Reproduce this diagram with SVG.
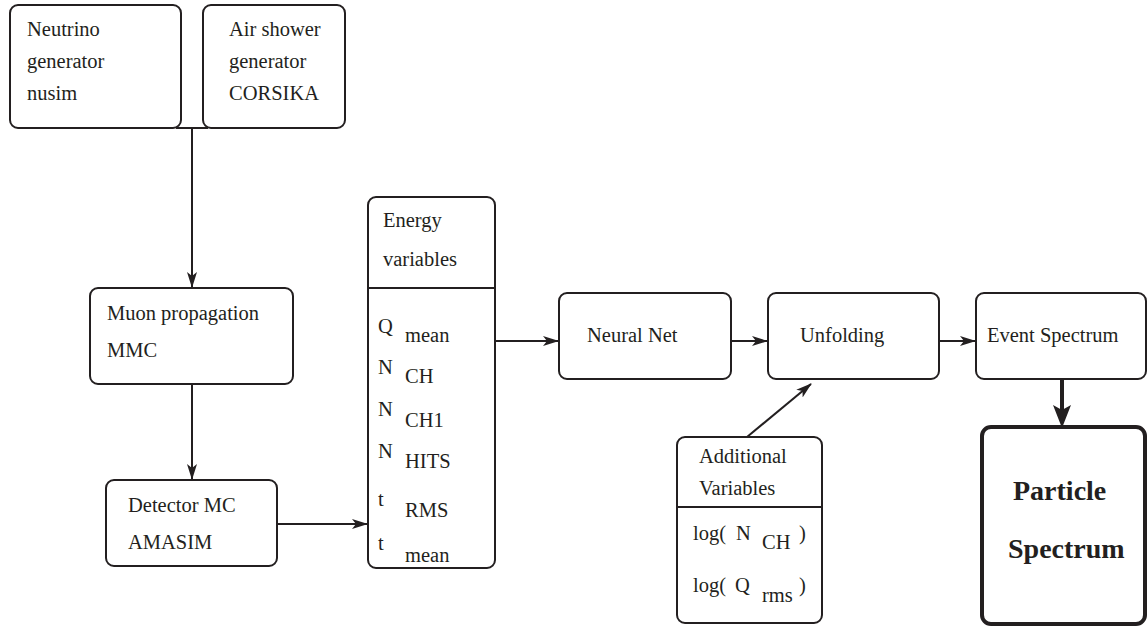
<svg xmlns="http://www.w3.org/2000/svg" width="1148" height="627" viewBox="0 0 1148 627" font-family="'Liberation Serif', Tinos, 'Times New Roman', Times, 'Noto Serif', 'DejaVu Serif', FreeSerif, serif">
<defs>
<marker id="ah" markerWidth="16" markerHeight="12" refX="15" refY="6" orient="auto" markerUnits="userSpaceOnUse">
<path d="M0,1 L16,6 L0,11 L4,6 z" fill="#231f20"/>
</marker>
</defs>
<style>
.box{fill:#fff;stroke:#231f20;stroke-width:2}
.thick{fill:#fff;stroke:#231f20;stroke-width:4}
.ln{fill:none;stroke:#231f20;stroke-width:2}
text{font-family:'Liberation Serif',Tinos,'Times New Roman',Times,'Noto Serif','DejaVu Serif',FreeSerif,serif;font-size:20.5px;fill:#231f20}
.b{font-weight:bold;font-size:28px}
</style>
<rect width="1148" height="627" fill="#fff"/>
<g id="connectors">
<line class="ln" x1="176" y1="128" x2="208" y2="128"/>
<line class="ln" x1="192" y1="128" x2="192" y2="287" marker-end="url(#ah)"/>
<line class="ln" x1="192" y1="384" x2="192" y2="479" marker-end="url(#ah)"/>
<line class="ln" x1="277" y1="524" x2="367" y2="524" marker-end="url(#ah)"/>
<line class="ln" x1="495" y1="341" x2="558" y2="341" marker-end="url(#ah)"/>
<line class="ln" x1="731" y1="341" x2="767" y2="341" marker-end="url(#ah)"/>
<line class="ln" x1="939" y1="341" x2="975" y2="341" marker-end="url(#ah)"/>
<line class="ln" x1="747" y1="437" x2="811" y2="384" marker-end="url(#ah)"/>
<line x1="1062" y1="379" x2="1062" y2="412" stroke="#231f20" stroke-width="4"/>
<path d="M1053,405 L1062,428 L1071,405 L1062,410 z" fill="#231f20"/>
</g>
<g id="neutrino">
<rect class="box" x="10" y="5" width="171" height="123" rx="8"/>
<text x="27" y="36">Neutrino</text>
<text x="27" y="68">generator</text>
<text x="27" y="100">nusim</text>
</g>
<g id="airshower">
<rect class="box" x="203" y="5" width="142" height="123" rx="8"/>
<text x="229" y="36">Air shower</text>
<text x="229" y="68">generator</text>
<text x="229" y="100">CORSIKA</text>
</g>
<g id="muon">
<rect class="box" x="90" y="288" width="203" height="96" rx="8"/>
<text x="107" y="320">Muon propagation</text>
<text x="107" y="357">MMC</text>
</g>
<g id="detector">
<rect class="box" x="106" y="480" width="171" height="86" rx="8"/>
<text x="128" y="512">Detector MC</text>
<text x="128" y="549">AMASIM</text>
</g>
<g id="energy">
<rect class="box" x="368" y="197" width="127" height="371" rx="8"/>
<line class="ln" x1="368" y1="288" x2="495" y2="288"/>
<text x="383" y="227">Energy</text>
<text x="383" y="266">variables</text>
<text x="378" y="333">Q</text><text x="405" y="342">mean</text>
<text x="378" y="374">N</text><text x="405" y="383">CH</text>
<text x="378" y="416">N</text><text x="405" y="427">CH1</text>
<text x="378" y="458">N</text><text x="405" y="468">HITS</text>
<text x="378" y="506">t</text><text x="405" y="517">RMS</text>
<text x="378" y="550">t</text><text x="405" y="562">mean</text>
</g>
<g id="neuralnet">
<rect class="box" x="559" y="293" width="172" height="86" rx="8"/>
<text x="587" y="342">Neural Net</text>
</g>
<g id="unfolding">
<rect class="box" x="768" y="293" width="171" height="86" rx="8"/>
<text x="800" y="342">Unfolding</text>
</g>
<g id="eventspectrum">
<rect class="box" x="976" y="293" width="170" height="86" rx="8"/>
<text x="987" y="342">Event Spectrum</text>
</g>
<g id="additional">
<rect class="box" x="677" y="437" width="145" height="186" rx="8"/>
<line class="ln" x1="677" y1="507" x2="822" y2="507"/>
<text x="699" y="463">Additional</text>
<text x="699" y="495">Variables</text>
<text x="693" y="540">log(</text><text x="736" y="540">N</text><text x="762" y="549">CH</text><text x="799" y="540">)</text>
<text x="693" y="592">log(</text><text x="735" y="592">Q</text><text x="762" y="602">rms</text><text x="799" y="592">)</text>
</g>
<g id="particlespectrum">
<rect class="thick" x="982" y="427" width="163" height="197" rx="9"/>
<text class="b" x="1013" y="500">Particle</text>
<text class="b" x="1008" y="558">Spectrum</text>
</g>
</svg>
